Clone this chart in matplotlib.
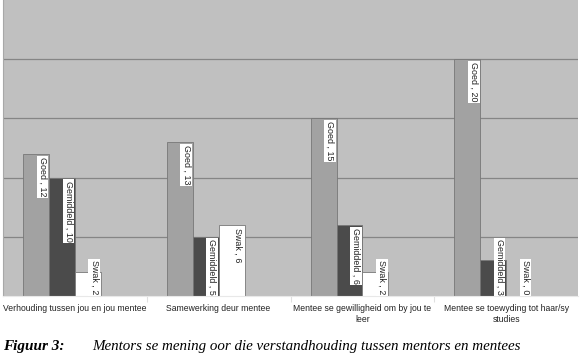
import matplotlib
matplotlib.use('Agg')
import matplotlib.pyplot as plt
import numpy as np

categories = ['Verhouding tussen jou en jou mentee',
              'Samewerking deur mentee',
              'Mentee se gewilligheid om by jou te\nleer',
              'Mentee se toewyding tot haar/sy\nstudies']
series_names = ['Goed', 'Gemiddeld', 'Swak']
goed = [12, 13, 15, 20]
gemiddeld = [10, 5, 6, 3]
swak = [2, 6, 2, 0]

colors = ['#a2a2a2', '#4b4b4b', '#ffffff']

fig = plt.figure(figsize=(5.8, 3.55), dpi=100)
ax = fig.add_axes([3 / 580, 1 - 296 / 355, 575 / 580, 296 / 355])
ax.set_facecolor('#c0c0c0')

x = np.arange(len(categories))
w = 0.18
offsets = [-1.5 * w, -0.5 * w, 0.5 * w]  # 4th slot left empty

ax.set_xlim(-0.5, len(categories) - 0.5)
ax.set_ylim(0, 25)
ax.set_yticks([5, 10, 15, 20])
ax.yaxis.grid(True, color='#858585', lw=0.9)
ax.set_axisbelow(True)
ax.tick_params(axis='y', length=0, labelleft=False)

ax.set_xticks(x)
ax.set_xticklabels(categories, fontsize=6.2, family='Liberation Sans',
                   linespacing=1.3, color='#222222')
ax.tick_params(axis='x', length=0, pad=6)
ax.set_xticks(x[:-1] + 0.5, minor=True)
ax.tick_params(axis='x', which='minor', length=4, color='#e0e0e0', width=0.8)

for sp in ['top', 'right']:
    ax.spines[sp].set_visible(False)
ax.spines['left'].set_color('#a8a8a8')
ax.spines['bottom'].set_color('#e8e8e8')

labels = []
for name, vals, off, c in zip(series_names, [goed, gemiddeld, swak], offsets, colors):
    ax.bar(x + off, vals, width=w, color=c, edgecolor='#777777', lw=0.6, zorder=2)
    for xi, v in zip(x, vals):
        t = ax.text(xi + off + 0.045, v - 0.25, f'{name} , {v}', rotation=270,
                    ha='center', va='top', fontsize=6.4, family='Liberation Sans',
                    color='#222222',
                    bbox=dict(boxstyle='square,pad=0.15', fc='white', ec='none'),
                    zorder=3)
        labels.append(t)

# short bars: push the label up so it ends at the baseline
fig.canvas.draw()
r = fig.canvas.get_renderer()
base = ax.transData.transform((0, 0))[1]
for t in labels:
    bb = t.get_window_extent(r)
    if bb.y0 < base + 1:
        t.set_y(0.1)
        t.set_va('bottom')

fig.text(3 / 580, 1 - 350 / 355, 'Figuur 3:', fontsize=11, family='Liberation Serif',
         style='italic', weight='bold')
fig.text(92 / 580, 1 - 350 / 355,
         'Mentors se mening oor die verstandhouding tussen mentors en mentees',
         fontsize=10.8, family='Liberation Serif', style='italic')

fig.savefig('out.png', dpi=100)
